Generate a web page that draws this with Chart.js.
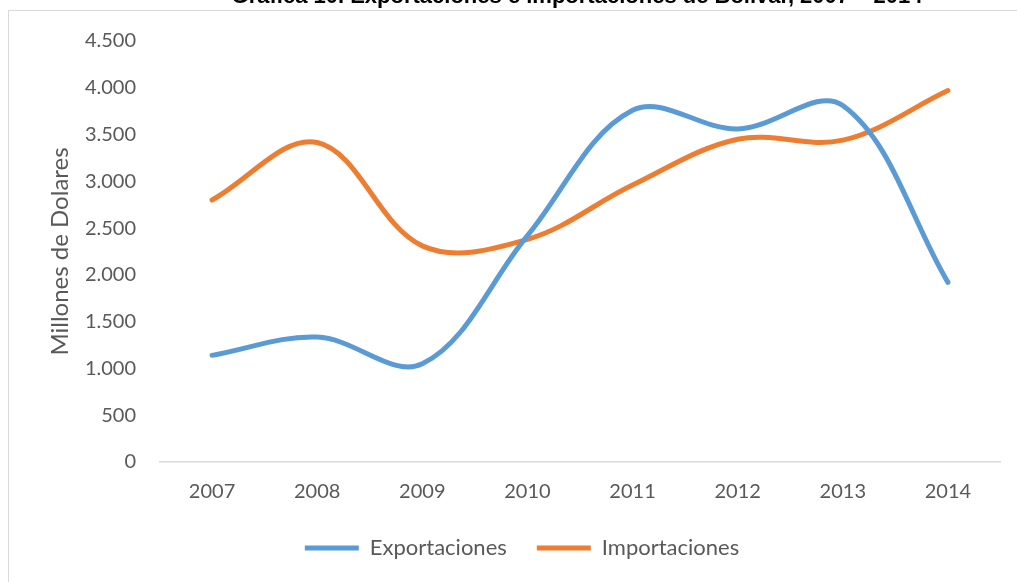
<!DOCTYPE html>
<html>
<head>
<meta charset="utf-8">
<script src="https://cdn.jsdelivr.net/npm/chart.js@4.4.0/dist/chart.umd.min.js"></script>
<style>
  html, body { margin: 0; padding: 0; background: #fff; overflow: hidden; }
  #frame { position: absolute; left: 8px; top: 10px; width: 1100px; height: 700px;
           border-left: 1px solid #d9d9d9; border-top: 1px solid #d9d9d9; }
  #wrap { position: absolute; left: 0; top: 0; width: 1017px; height: 582px; }
</style>
</head>
<body>
<div id="frame"></div>
<div id="wrap"><canvas id="chart"></canvas></div>
<script>
// data (millones de dólares)
const years = ['2007', '2008', '2009', '2010', '2011', '2012', '2013', '2014'];
const exportaciones = [1140, 1335, 1050, 2420, 3760, 3560, 3810, 1920];
const importaciones = [2800, 3415, 2310, 2380, 2960, 3450, 3440, 3970];

const grey = '#595959';
const font = 'Lato, "Open Sans", sans-serif';

// title sits above the chart frame and is cut off at the top of the page
const titleShift = {
  id: 'titleShift',
  afterLayout(chart) {
    const t = chart.titleBlock;
    t.top = -16;
    t.left = 137;
    t.right = 1017;
  }
};

const ctx = document.getElementById('chart').getContext('2d');
new Chart(ctx, {
  type: 'line',
  data: {
    labels: years,
    datasets: [{
      label: 'Exportaciones',
      data: exportaciones,
      borderColor: '#5B9BD5',
      backgroundColor: '#5B9BD5',
      borderWidth: 5,
      borderCapStyle: 'round',
      pointRadius: 0,
      tension: 0.36
    }, {
      label: 'Importaciones',
      data: importaciones,
      borderColor: '#ED7D31',
      backgroundColor: '#ED7D31',
      borderWidth: 5,
      borderCapStyle: 'round',
      pointRadius: 0,
      tension: 0.36
    }]
  },
  options: {
    responsive: true,
    maintainAspectRatio: false,
    animation: false,
    layout: { padding: { left: 43.5, right: 16.5, top: 0, bottom: 13 } },
    plugins: {
      title: {
        display: true,
        text: 'Gráfica 10. Exportaciones e importaciones de Bolívar, 2007 – 2014',
        color: '#000',
        font: { family: '"Liberation Sans", Arial, sans-serif', size: 22, weight: 'bold' },
        padding: { top: 0, bottom: 14.6 }
      },
      legend: {
        position: 'bottom',
        labels: {
          usePointStyle: true,
          pointStyle: 'line',
          pointStyleWidth: 54,
          color: grey,
          padding: 30,
          font: { family: font, size: 22 }
        }
      },
      tooltip: { enabled: false }
    },
    scales: {
      x: {
        offset: true,
        grid: { display: false, drawTicks: false },
        border: { display: true, color: '#d9d9d9', width: 1.5 },
        ticks: { color: grey, padding: 18, font: { family: font, size: 20 } },
        afterFit(scale) { scale.height = 45; }
      },
      y: {
        min: 0,
        max: 4500,
        grid: { display: false, drawTicks: false },
        border: { display: false },
        ticks: {
          stepSize: 500,
          color: grey,
          padding: 23.5,
          font: { family: font, size: 20 },
          callback: v => String(v).replace(/\B(?=(\d{3})+(?!\d))/g, '.')
        },
        title: {
          display: true,
          text: 'Millones de Dolares',
          color: grey,
          padding: { top: 2, bottom: 0 },
          font: { family: font, size: 24 }
        },
        afterFit(scale) { scale.width = 116; }
      }
    }
  },
  plugins: [titleShift]
});
</script>
</body>
</html>
